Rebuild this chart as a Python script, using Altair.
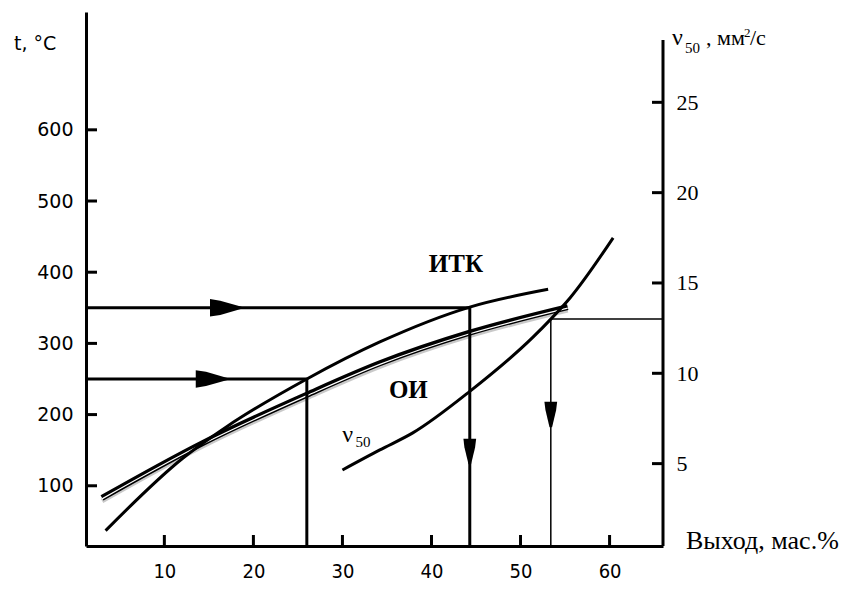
import altair as alt
import pandas as pd

# ---- data ----
x_ticks = [10, 20, 30, 40, 50, 60]
t_ticks = [100, 200, 300, 400, 500, 600]
nu_ticks = [5, 10, 15, 20, 25]

itk_x = [3.4, 12.1, 17.0, 26.0, 34.2, 44.3, 53.1]
itk_t = [37, 139, 183, 250, 302, 351, 376]

oi_x = [3.0, 14.3, 26.0, 34.2, 44.3, 55.3]
oi_t = [83, 160, 228, 272, 315, 351]

nu_x = [30.0, 34.2, 37.9, 44.3, 51.4, 53.4, 55.6, 60.4]
nu_v = [4.65, 5.76, 6.7, 9.0, 12.0, 13.0, 14.2, 17.5]

guide_t = [350, 250]          # horizontal guides (°C)
guide_x = [44.3, 26.0]        # yields where guides meet ИТК
nu_guide_x = [53.4]
nu_guide_v = [13.0]

arrow_r_x = [16.9, 15.3]
arrow_r_t = [350, 250]
arrow_d_x = [44.3, 53.4]
arrow_d_t = [148, 200]

label_names = ["ИТК", "ОИ"]
label_x = [42.75, 37.4]
label_t = [411.5, 234.5]

X_DOM = [1.2, 66.0]
T_DOM = [15.4, 765.5]
NU_DOM = [0.44, 30.0]
W, H = 577, 534

SERIF = "Liberation Serif"
SANS = "DejaVu Sans"
NARROW = "Liberation Sans Narrow, DejaVu Sans Condensed, Liberation Sans"

x_axis = alt.Axis(values=x_ticks, title=None, grid=False, ticks=False, tickSize=0,
                  domainColor="black", domainWidth=3, labelFont=NARROW,
                  labelFontSize=20, labelColor="black", labelPadding=15)
t_axis = alt.Axis(values=t_ticks, title=None, grid=False, ticks=False, tickSize=0,
                  domainColor="black", domainWidth=3, labelFont=SANS,
                  labelFontSize=19, labelColor="black", labelPadding=13, orient="left")
nu_axis = alt.Axis(values=nu_ticks, title=None, grid=False, ticks=False, tickSize=0,
                   domain=False, labelFont=SERIF, labelFontSize=22,
                   labelColor="black", labelPadding=13, orient="right")


def X(field):
    return alt.X(field, type="quantitative", axis=x_axis,
                 scale=alt.Scale(domain=X_DOM, nice=False, zero=False))


def YT(field):
    return alt.Y(field, type="quantitative", axis=t_axis,
                 scale=alt.Scale(domain=T_DOM, nice=False, zero=False))


def YN(field):
    return alt.Y(field, type="quantitative", axis=nu_axis,
                 scale=alt.Scale(domain=NU_DOM, nice=False, zero=False))


df_xt = pd.DataFrame({"x": x_ticks})
df_tt = pd.DataFrame({"t": t_ticks})
df_nt = pd.DataFrame({"v": nu_ticks})
df_itk = pd.DataFrame({"x": itk_x, "t": itk_t})
df_oi = pd.DataFrame({"x": oi_x, "t": oi_t})
df_nu = pd.DataFrame({"x": nu_x, "v": nu_v})
df_guide = pd.DataFrame({"x": guide_x, "t": guide_t})
df_nug = pd.DataFrame({"x": nu_guide_x, "v": nu_guide_v})
df_ar = pd.DataFrame({"x": arrow_r_x, "t": arrow_r_t})
df_ad = pd.DataFrame({"x": arrow_d_x, "t": arrow_d_t})
df_lab = pd.DataFrame({"x": label_x, "t": label_t, "s": label_names})

# ---- temperature (left) group ----
tick_left = alt.Chart(df_tt).mark_rule(color="black", strokeWidth=3).encode(
    y=YT("t"), x=alt.value(0), x2=alt.value(11))
tick_x = alt.Chart(df_xt).mark_rule(color="black", strokeWidth=3).encode(
    x=X("x"), y=alt.value(H - 11), y2=alt.value(H))

oi_shadow = alt.Chart(df_oi).mark_line(color="#888888", strokeWidth=5, opacity=0.45,
                                       yOffset=3, interpolate="monotone").encode(x=X("x"), y=YT("t"))
oi_black = alt.Chart(df_oi).mark_line(color="black", strokeWidth=6,
                                      interpolate="monotone").encode(x=X("x"), y=YT("t"))
oi_white = alt.Chart(df_oi).mark_line(color="white", strokeWidth=1.2, yOffset=1,
                                      interpolate="monotone").encode(x=X("x"), y=YT("t"))
itk = alt.Chart(df_itk).mark_line(color="black", strokeWidth=3,
                                  interpolate="monotone").encode(x=X("x"), y=YT("t"))

hguides = alt.Chart(df_guide).mark_rule(color="black", strokeWidth=3).encode(
    y=YT("t"), x=X("x"), x2=alt.value(0))
vguides = alt.Chart(df_guide).mark_rule(color="black", strokeWidth=3).encode(
    x=X("x"), y=YT("t"), y2=alt.value(H))

arrows_r = alt.Chart(df_ar).mark_point(
    shape="M-1,-0.55L-0.35,-0.45L1,-0.06L1,0.06L-0.35,0.45L-1,0.55Z", filled=True,
    size=1000, color="black", opacity=1).encode(x=X("x"), y=YT("t"))
arrows_d = alt.Chart(df_ad).mark_point(
    shape="M-0.5,-1L0.5,-1L0.42,-0.35L0.1,1L-0.1,1L-0.42,-0.35Z", filled=True,
    size=650, color="black", opacity=1).encode(x=X("x"), y=YT("t"))

labels = alt.Chart(df_lab).mark_text(font=SERIF, fontSize=25, fontWeight="bold",
                                     color="black").encode(x=X("x"), y=YT("t"), text="s:N")

t_title = alt.Chart(pd.DataFrame({"s": ["t, °C"]})).mark_text(
    font=SANS, fontSize=19, align="left", baseline="middle", color="black").encode(
    x=alt.value(-72), y=alt.value(32), text="s:N")
x_title = alt.Chart(pd.DataFrame({"s": ["Выход, мас.%"]})).mark_text(
    font=SERIF, fontSize=26, align="left", baseline="middle", color="black").encode(
    x=alt.value(600), y=alt.value(529), text="s:N")

t_group = alt.layer(tick_left, tick_x, oi_shadow, oi_black, oi_white, itk, hguides,
                    vguides, arrows_r, arrows_d, labels, t_title, x_title)

# ---- viscosity (right) group ----
tick_right = alt.Chart(df_nt).mark_rule(color="black", strokeWidth=3).encode(
    y=YN("v"), x=alt.value(W - 11), x2=alt.value(W))
right_domain = alt.Chart(pd.DataFrame({"a": [0]})).mark_rule(color="black", strokeWidth=3).encode(
    x=alt.value(W), y=alt.value(28), y2=alt.value(H))
nu_line = alt.Chart(df_nu).mark_line(color="black", strokeWidth=3,
                                     interpolate="monotone").encode(x=X("x"), y=YN("v"))
nu_h = alt.Chart(df_nug).mark_rule(color="black", strokeWidth=1.5).encode(
    y=YN("v"), x=X("x"), x2=alt.value(W))
nu_vv = alt.Chart(df_nug).mark_rule(color="black", strokeWidth=1.5).encode(
    x=X("x"), y=YN("v"), y2=alt.value(H))

nu_lab1 = alt.Chart(pd.DataFrame({"x": [30.6], "v": [6.6], "s": ["ν"]})).mark_text(
    font=SERIF, fontSize=24, color="black").encode(x=X("x"), y=YN("v"), text="s:N")
nu_lab2 = alt.Chart(pd.DataFrame({"x": [32.3], "v": [6.2], "s": ["50"]})).mark_text(
    font=SERIF, fontSize=15, color="black").encode(x=X("x"), y=YN("v"), text="s:N")

rt_parts = ["ν", "50", ", мм", "2", "/с"]
rt_x = [586, 599, 620, 658, 664]
rt_y = [33, 41, 33, 25, 33]
rt_size = [24, 15, 22, 13, 22]
right_title = alt.layer(*[
    alt.Chart(pd.DataFrame({"s": [p]})).mark_text(
        font=SERIF, fontSize=fs, align="left", baseline="alphabetic", color="black").encode(
        x=alt.value(px), y=alt.value(py), text="s:N")
    for p, px, py, fs in zip(rt_parts, rt_x, rt_y, rt_size)
])

nu_group = alt.layer(tick_right, right_domain, nu_line, nu_h, nu_vv, nu_lab1, nu_lab2, right_title)

chart = alt.layer(t_group, nu_group).resolve_scale(y="independent").properties(
    width=W, height=H,
    autosize=alt.AutoSizeParams(type="none"),
    padding={"left": 78, "top": 4, "right": 176, "bottom": 35},
    background="white",
).configure_view(stroke=None)

chart.save("out.html", embed_options={"renderer": "svg", "actions": False})
